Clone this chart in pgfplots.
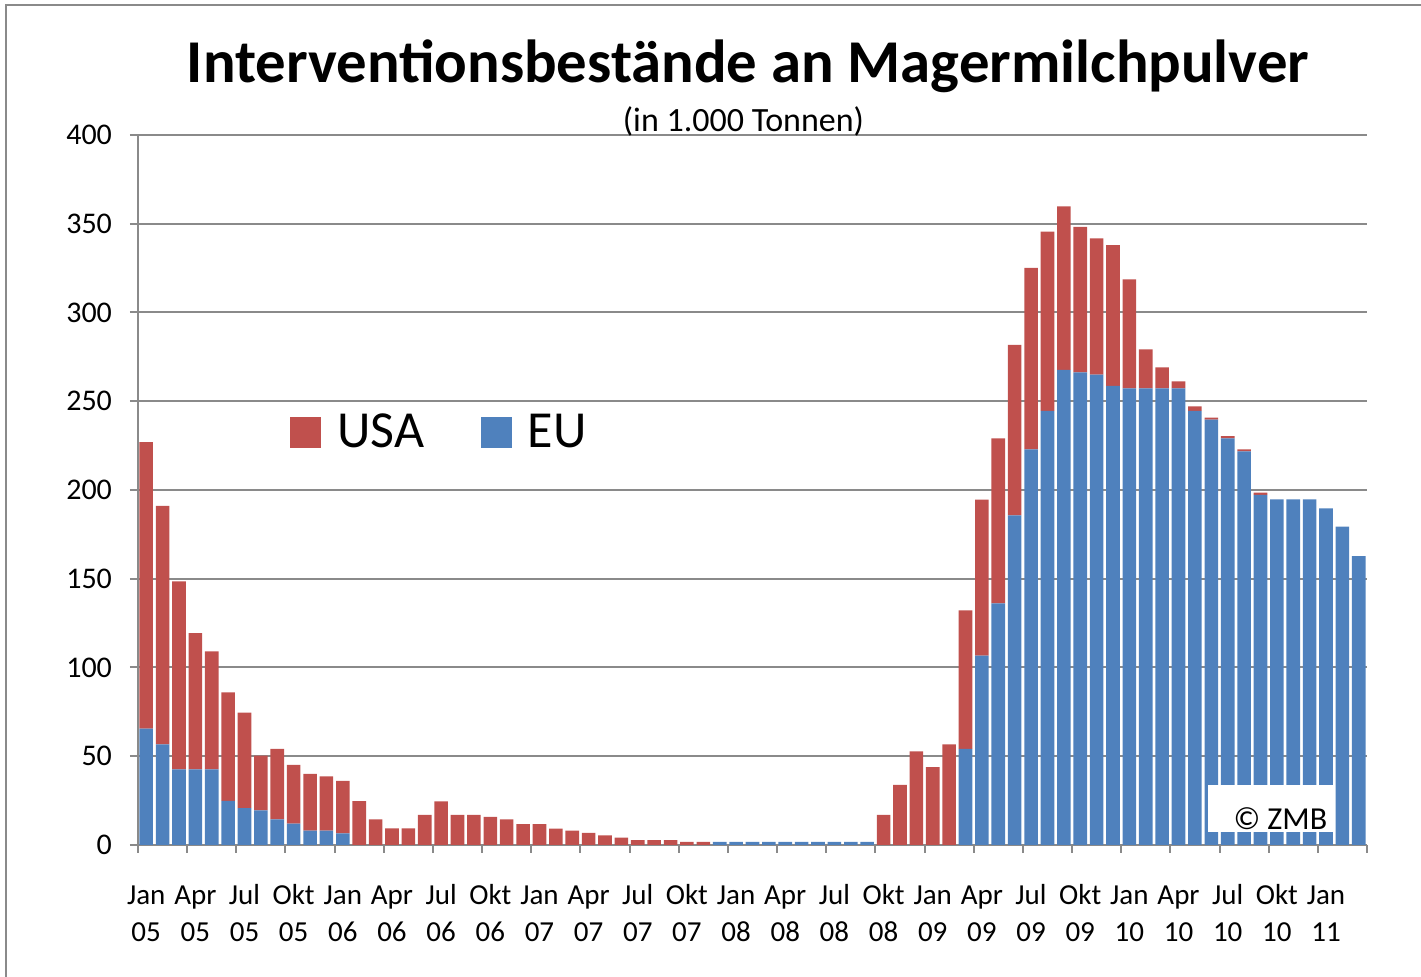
\documentclass[border=0pt]{standalone}
\usepackage{fontspec}
\setmainfont{Carlito}
\usepackage{pgfplots}
\usepackage{pgfplotstable}
\pgfplotsset{compat=1.18}
\definecolor{usared}{HTML}{C0504D}
\definecolor{eublue}{HTML}{4F81BD}
\definecolor{gridgray}{HTML}{8A8A8A}
\newcommand{\tl}[2]{\rule{0pt}{11pt}#1\\#2}

\pgfplotstableread{
x eu usa
0 65.5 161.5
1 56.7 134.3
2 42.6 105.9
3 42.6 76.7
4 42.6 66.5
5 24.8 61.2
6 20.8 53.7
7 19.5 30.8
8 14.4 39.7
9 12.0 33.1
10 8.1 31.9
11 8.1 30.6
12 6.6 29.5
13 0 24.7
14 0 14.4
15 0 9.3
16 0 9.3
17 0 16.9
18 0 24.6
19 0 16.9
20 0 16.9
21 0 15.8
22 0 14.4
23 0 11.8
24 0 11.8
25 0 9.2
26 0 8.1
27 0 6.8
28 0 5.4
29 0 4.2
30 0 2.8
31 0 2.8
32 0 2.8
33 0 1.7
34 0 1.7
35 1.7 0
36 1.7 0
37 1.7 0
38 1.7 0
39 1.7 0
40 1.7 0
41 1.7 0
42 1.7 0
43 1.7 0
44 1.7 0
45 0 16.9
46 0 33.8
47 0 52.7
48 0 43.9
49 0 56.7
50 54.1 78.1
51 106.7 87.9
52 136.1 93.0
53 185.7 96.0
54 222.9 102.2
55 244.5 101.0
56 267.6 92.2
57 266.3 81.9
58 265.0 76.8
59 258.7 79.3
60 257.3 61.4
61 257.3 21.9
62 257.3 11.8
63 257.3 3.9
64 244.5 2.6
65 239.6 1.2
66 229.1 1.3
67 221.8 1.1
68 197.2 1.3
69 194.7 0
70 194.7 0
71 194.7 0
72 189.6 0
73 179.3 0
74 162.8 0
}\datatable

\begin{document}
\begin{tikzpicture}
\useasboundingbox (0,0) rectangle (710.5pt,488.5pt);
\draw[gridgray, line width=1pt] (3pt,0) -- (3pt,486pt) -- (710.5pt,486pt);
\begin{axis}[
  at={(69pt,66pt)}, anchor=south west,
  width=614.5pt, height=355pt, scale only axis,
  ybar stacked, bar width=0.83,
  xmin=-0.5, xmax=74.5, ymin=0, ymax=400,
  axis lines*=left,
  axis line style={gridgray, line width=1pt},
  tick align=outside,
  major tick length=4pt,
  tick style={gridgray, line width=1pt},
  ytick={0,50,...,400},
  ymajorgrids, grid style={gridgray, line width=1pt},
  /pgf/number format/assume math mode=true,
  yticklabel style={font=\fontsize{15}{17}\selectfont, xshift=-5.5pt},
  xtick={-0.5,2.5,...,74.5},
  xticklabels={},
  extra x ticks={0,3,...,72},
  extra x tick style={major tick length=0pt, xticklabel style={align=center, yshift=-15pt, font=\fontsize{14.5}{18.8}\selectfont}},
  extra x tick labels={\tl{Jan}{05},\tl{Apr}{05},\tl{Jul}{05},\tl{Okt}{05},
    \tl{Jan}{06},\tl{Apr}{06},\tl{Jul}{06},\tl{Okt}{06},
    \tl{Jan}{07},\tl{Apr}{07},\tl{Jul}{07},\tl{Okt}{07},
    \tl{Jan}{08},\tl{Apr}{08},\tl{Jul}{08},\tl{Okt}{08},
    \tl{Jan}{09},\tl{Apr}{09},\tl{Jul}{09},\tl{Okt}{09},
    \tl{Jan}{10},\tl{Apr}{10},\tl{Jul}{10},\tl{Okt}{10},
    \tl{Jan}{11}},
  legend style={at={(0.1188,0.5817)}, anchor=west, draw=none, fill=none,
    font=\fontsize{26}{30}\selectfont,
    /tikz/every even column/.append style={column sep=26.5pt}},
  legend columns=2,
]
\addlegendimage{legend image code/.code={\fill[usared] (0pt,-7.5pt) rectangle (15pt,7.5pt); \path (21pt,0pt);}}
\addlegendentry{USA}
\addlegendimage{legend image code/.code={\fill[eublue] (0pt,-7.5pt) rectangle (15pt,7.5pt); \path (21pt,0pt);}}
\addlegendentry{EU}
\addplot[fill=eublue, draw=none] table[x=x, y=eu] {\datatable};
\addplot[fill=usared, draw=none] table[x=x, y=usa] {\datatable};
\coordinate (zmbA) at (axis cs:64.8,7.3);
\coordinate (zmbB) at (axis cs:72.4,33.8);
\coordinate (zmbT) at (axis cs:72.1,9.0);
\end{axis}
\fill[white] (zmbA) rectangle (zmbB);
\node[anchor=base east, font=\fontsize{16}{19}\selectfont, inner sep=0pt] at (zmbT) {© ZMB};
\node[anchor=base, font=\fontsize{30.4}{36}\selectfont\bfseries, inner sep=0pt] at (374pt,447pt) {Interventionsbestände an Magermilchpulver};
\node[anchor=base, font=\fontsize{17}{20}\selectfont, inner sep=0pt] at (371.75pt,422.5pt) {(in 1.000 Tonnen)};
\end{tikzpicture}
\end{document}
